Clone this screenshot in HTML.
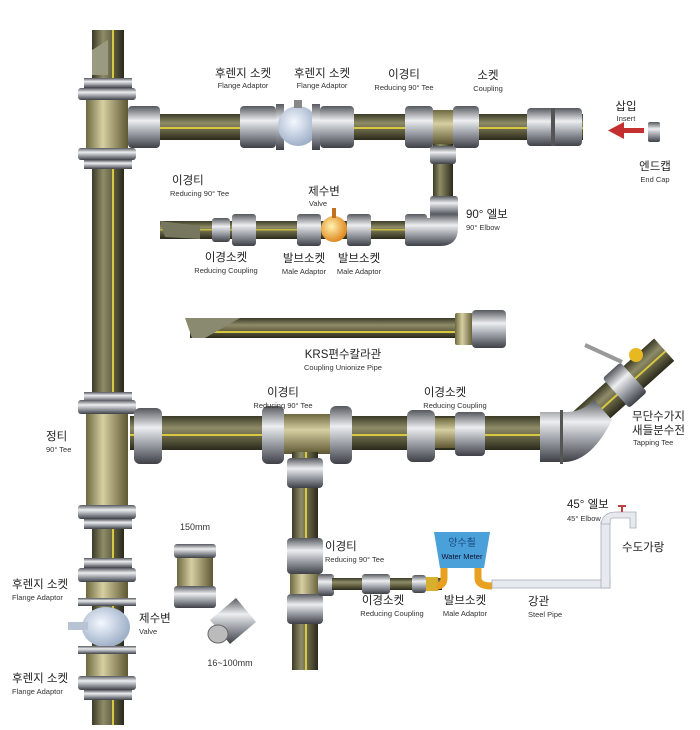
<!DOCTYPE html>
<html><head><meta charset="utf-8"><style>
html,body{margin:0;padding:0;background:#fff}
svg{display:block}
.k{font-family:"Liberation Sans","Noto Sans CJK KR",sans-serif;font-size:11.5px;fill:#222}
.e{font-family:"Liberation Sans",sans-serif;font-size:7.5px;fill:#333}
</style></head><body>
<svg width="700" height="730" viewBox="0 0 700 730" xmlns="http://www.w3.org/2000/svg">
<defs>
<linearGradient id="ph" x1="0" y1="0" x2="0" y2="1"><stop offset="0" stop-color="#3b3a26"/><stop offset=".35" stop-color="#8e8c68"/><stop offset=".7" stop-color="#5a583c"/><stop offset="1" stop-color="#2a291b"/></linearGradient>
<linearGradient id="pv" x1="0" y1="0" x2="1" y2="0"><stop offset="0" stop-color="#3b3a26"/><stop offset=".35" stop-color="#8e8c68"/><stop offset=".7" stop-color="#5a583c"/><stop offset="1" stop-color="#2a291b"/></linearGradient>
<linearGradient id="mh" x1="0" y1="0" x2="0" y2="1"><stop offset="0" stop-color="#55585e"/><stop offset=".35" stop-color="#eceef0"/><stop offset=".7" stop-color="#8d9198"/><stop offset="1" stop-color="#3e4046"/></linearGradient>
<linearGradient id="mv" x1="0" y1="0" x2="1" y2="0"><stop offset="0" stop-color="#55585e"/><stop offset=".35" stop-color="#eceef0"/><stop offset=".7" stop-color="#8d9198"/><stop offset="1" stop-color="#3e4046"/></linearGradient>
<linearGradient id="bv" x1="0" y1="0" x2="1" y2="0"><stop offset="0" stop-color="#6e6840"/><stop offset=".4" stop-color="#d6cfa2"/><stop offset="1" stop-color="#5d5733"/></linearGradient>
<linearGradient id="bh" x1="0" y1="0" x2="0" y2="1"><stop offset="0" stop-color="#6e6840"/><stop offset=".4" stop-color="#d6cfa2"/><stop offset="1" stop-color="#5d5733"/></linearGradient>
<radialGradient id="vb" cx=".4" cy=".4" r=".6"><stop offset="0" stop-color="#f4f8ff"/><stop offset="1" stop-color="#9fb0c8"/></radialGradient>
<radialGradient id="vo" cx=".4" cy=".4" r=".6"><stop offset="0" stop-color="#fff2b0"/><stop offset="1" stop-color="#e08a20"/></radialGradient>
</defs>

<rect x="92" y="30" width="32" height="695" fill="url(#pv)"/>
<rect x="112" y="30" width="2" height="695" fill="#d8c840"/>
<path d="M92 50 L108 40 L108 75 L92 75Z" fill="#9a9a80"/>
<rect x="84" y="78" width="48" height="10" fill="url(#mh)"/>
<rect x="78" y="88" width="58" height="12" rx="3" fill="url(#mh)"/>
<rect x="86" y="100" width="42" height="48" fill="url(#bv)"/>
<rect x="78" y="148" width="58" height="12" rx="3" fill="url(#mh)"/>
<rect x="84" y="160" width="48" height="9" fill="url(#mh)"/>
<rect x="128" y="114" width="455" height="26" fill="url(#ph)"/>
<rect x="128" y="127" width="455" height="2" fill="#d8c840"/>
<rect x="128" y="106" width="32" height="42" rx="4" fill="url(#mh)"/>
<rect x="240" y="106" width="36" height="42" rx="4" fill="url(#mh)"/>
<rect x="276" y="104" width="8" height="46" fill="url(#mh)"/>
<circle cx="298" cy="126" r="20" fill="url(#vb)"/>
<rect x="294" y="100" width="8" height="8" fill="#888"/>
<rect x="312" y="104" width="8" height="46" fill="url(#mh)"/>
<rect x="320" y="106" width="34" height="42" rx="4" fill="url(#mh)"/>
<rect x="405" y="106" width="28" height="42" rx="4" fill="url(#mh)"/>
<rect x="433" y="110" width="20" height="34" fill="url(#bh)"/>
<rect x="453" y="106" width="26" height="42" rx="4" fill="url(#mh)"/>
<rect x="527" y="108" width="55" height="38" rx="4" fill="url(#mh)"/>
<rect x="551" y="108" width="4" height="38" fill="#555"/>
<rect x="622" y="128" width="22" height="5" fill="#c43030"/>
<path d="M608 130.5 L624 122 L624 139Z" fill="#c43030"/>
<rect x="648" y="122" width="12" height="20" rx="2" fill="url(#mh)"/>
<rect x="433" y="144" width="20" height="70" fill="url(#pv)"/>
<rect x="430" y="146" width="26" height="18" rx="3" fill="url(#mh)"/>
<rect x="430" y="196" width="28" height="20" rx="3" fill="url(#mh)"/>
<path d="M430 214 L458 214 L458 228 Q458 246 440 246 L420 246 L420 218 L430 218Z" fill="url(#mh)"/>
<rect x="160" y="221" width="262" height="18" fill="url(#ph)"/>
<rect x="160" y="229" width="262" height="1.5" fill="#c8b840"/>
<path d="M160 221 L200 226 L200 239 L165 237Z" fill="#777760"/>
<rect x="212" y="218" width="18" height="24" rx="3" fill="url(#mh)"/>
<rect x="232" y="214" width="24" height="32" rx="3" fill="url(#mh)"/>
<rect x="297" y="214" width="24" height="32" rx="3" fill="url(#mh)"/>
<circle cx="334" cy="229" r="13" fill="url(#vo)"/>
<rect x="332" y="208" width="4" height="10" fill="#c07020"/>
<rect x="347" y="214" width="24" height="32" rx="3" fill="url(#mh)"/>
<rect x="405" y="214" width="22" height="32" rx="3" fill="url(#mh)"/>
<rect x="190" y="318" width="268" height="20" fill="url(#ph)"/>
<rect x="200" y="331" width="258" height="2" fill="#d8c840"/>
<path d="M185 318 L240 318 L205 338 L192 338Z" fill="#8a8a70"/>
<rect x="455" y="313" width="18" height="32" rx="2" fill="url(#bv)"/>
<rect x="472" y="310" width="34" height="38" rx="4" fill="url(#mh)"/>
<rect x="130" y="416" width="432" height="34" fill="url(#ph)"/>
<rect x="130" y="434" width="432" height="2" fill="#d8c840"/>
<rect x="84" y="392" width="48" height="10" fill="url(#mh)"/>
<rect x="78" y="400" width="58" height="14" rx="3" fill="url(#mh)"/>
<rect x="86" y="414" width="42" height="92" fill="url(#bv)"/>
<rect x="78" y="505" width="58" height="14" rx="3" fill="url(#mh)"/>
<rect x="84" y="519" width="48" height="10" fill="url(#mh)"/>
<rect x="134" y="408" width="28" height="56" rx="6" fill="url(#mh)"/>
<rect x="262" y="406" width="22" height="58" rx="6" fill="url(#mh)"/>
<rect x="284" y="414" width="46" height="40" fill="url(#bh)"/>
<rect x="330" y="406" width="22" height="58" rx="6" fill="url(#mh)"/>
<rect x="407" y="410" width="28" height="52" rx="6" fill="url(#mh)"/>
<rect x="435" y="418" width="20" height="30" fill="url(#bh)"/>
<rect x="455" y="412" width="30" height="44" rx="4" fill="url(#mh)"/>
<!-- diagonal pipe -->
<g transform="translate(575,430) rotate(-42)">
<rect x="0" y="-15" width="120" height="30" fill="url(#ph)"/>
<rect x="0" y="1" width="120" height="2" fill="#d8c840"/>
<rect x="55" y="-20" width="24" height="40" rx="3" fill="url(#mh)"/>
</g>
<circle cx="636" cy="355" r="7" fill="#e8b820"/>
<path d="M585 345 L622 362" stroke="#999" stroke-width="4"/>
<!-- 45 elbow -->
<path d="M540 412 L566 412 Q582 412 594 400 L612 420 Q592 460 566 462 L540 462Z" fill="url(#mh)"/>
<rect x="560" y="410" width="3" height="54" fill="#555"/>
<rect x="292" y="452" width="26" height="218" fill="url(#pv)"/>
<rect x="305" y="452" width="2" height="218" fill="#d8c840"/>
<rect x="287" y="458" width="36" height="30" rx="4" fill="url(#mh)"/>
<rect x="287" y="538" width="36" height="36" rx="4" fill="url(#mh)"/>
<rect x="290" y="574" width="30" height="20" fill="url(#bv)"/>
<rect x="287" y="594" width="36" height="30" rx="4" fill="url(#mh)"/>
<rect x="318" y="574" width="16" height="22" rx="3" fill="url(#mh)"/>
<rect x="332" y="578" width="110" height="12" fill="url(#ph)"/>
<rect x="362" y="574" width="28" height="20" rx="3" fill="url(#mh)"/>
<rect x="412" y="575" width="14" height="18" rx="3" fill="url(#mh)"/>
<rect x="426" y="577" width="12" height="14" fill="#d8b030"/>
<path d="M434 532 L490 532 L484 568 L440 568Z" fill="#4aa0d8"/>
<text x="462" y="546" text-anchor="middle" class="k" style="fill:#1a4a80;font-size:10px">양수쵤</text>
<text x="462" y="559" text-anchor="middle" class="e" style="fill:#113">Water Meter</text>
<path d="M444 568 L444 578 Q444 586 436 586" stroke="#e8a020" stroke-width="7" fill="none"/>
<path d="M478 568 L478 578 Q478 586 492 586" stroke="#e8a020" stroke-width="7" fill="none"/>
<rect x="492" y="580" width="118" height="8" fill="#e6eaee" stroke="#aab" stroke-width=".8"/>
<rect x="601" y="522" width="9" height="66" fill="#e6eaee" stroke="#aab" stroke-width=".8"/>
<path d="M601 524 Q603 512 616 512 L636 512 L636 528 L630 528 L630 518 L612 518 Q610 518 610 524Z" fill="#e6eaee" stroke="#aab" stroke-width=".8"/>
<path d="M618 506 L626 506 M622 506 L622 512" stroke="#c04040" stroke-width="2"/>
<rect x="84" y="558" width="48" height="10" fill="url(#mh)"/>
<rect x="78" y="568" width="58" height="14" rx="3" fill="url(#mh)"/>
<rect x="86" y="582" width="42" height="16" fill="url(#bv)"/>
<rect x="78" y="598" width="58" height="8" fill="url(#mh)"/>
<ellipse cx="106" cy="627" rx="24" ry="20" fill="url(#vb)"/>
<rect x="68" y="622" width="20" height="8" fill="#b8c4d4"/>
<rect x="78" y="646" width="58" height="8" fill="url(#mh)"/>
<rect x="86" y="654" width="42" height="22" fill="url(#bv)"/>
<rect x="78" y="676" width="58" height="14" rx="3" fill="url(#mh)"/>
<rect x="84" y="690" width="48" height="10" fill="url(#mh)"/>
<rect x="174" y="544" width="42" height="14" rx="3" fill="url(#mh)"/>
<rect x="177" y="558" width="36" height="28" fill="url(#bv)"/>
<rect x="174" y="586" width="42" height="22" rx="3" fill="url(#mh)"/>
<path d="M210 620 L236 598 L256 622 L230 644Z" fill="url(#mh)"/>
<ellipse cx="218" cy="634" rx="10" ry="9" fill="#bbb" stroke="#666"/>

<g text-anchor="middle">
<text x="243" y="77" class="k">후렌지 소켓</text><text x="243" y="88" class="e">Flange Adaptor</text>
<text x="322" y="77" class="k">후렌지 소켓</text><text x="322" y="88" class="e">Flange Adaptor</text>
<text x="404" y="78" class="k">이경티</text><text x="404" y="90" class="e">Reducing 90° Tee</text>
<text x="488" y="79" class="k">소켓</text><text x="488" y="91" class="e">Coupling</text>
<text x="626" y="110" class="k">삽입</text><text x="626" y="121" class="e">Insert</text>
<text x="655" y="170" class="k">엔드캡</text><text x="655" y="182" class="e">End Cap</text>
<text x="324" y="195" class="k">제수변</text><text x="318" y="206" class="e">Valve</text>
<text x="226" y="261" class="k">이경소켓</text><text x="226" y="273" class="e">Reducing Coupling</text>
<text x="304" y="262" class="k">발브소켓</text><text x="304" y="274" class="e">Male Adaptor</text>
<text x="359" y="262" class="k">발브소켓</text><text x="359" y="274" class="e">Male Adaptor</text>
<text x="343" y="358" class="k">KRS편수칼라관</text><text x="343" y="370" class="e">Coupling Unionize Pipe</text>
<text x="283" y="396" class="k">이경티</text><text x="283" y="408" class="e">Reducing 90° Tee</text>
<text x="445" y="396" class="k">이경소켓</text><text x="455" y="408" class="e">Reducing Coupling</text>
<text x="195" y="530" class="e" style="font-size:9px">150mm</text>
<text x="230" y="666" class="e" style="font-size:9px">16~100mm</text>
<text x="383" y="604" class="k">이경소켓</text><text x="392" y="616" class="e">Reducing Coupling</text>
<text x="465" y="604" class="k">발브소켓</text><text x="465" y="616" class="e">Male Adaptor</text>
</g>
<text x="172" y="184" class="k">이경티</text><text x="170" y="196" class="e">Reducing 90° Tee</text>
<text x="466" y="218" class="k">90° 엘보</text><text x="466" y="230" class="e">90° Elbow</text>
<text x="632" y="420" class="k">무단수가지</text><text x="632" y="434" class="k">새들분수전</text><text x="633" y="445" class="e">Tapping Tee</text>
<text x="46" y="440" class="k">정티</text><text x="46" y="452" class="e">90° Tee</text>
<text x="567" y="508" class="k">45° 엘보</text><text x="567" y="521" class="e">45° Elbow</text>
<text x="325" y="550" class="k">이경티</text><text x="325" y="562" class="e">Reducing 90° Tee</text>
<text x="622" y="551" class="k">수도가랑</text>
<text x="528" y="605" class="k">강관</text><text x="528" y="617" class="e">Steel Pipe</text>
<text x="12" y="588" class="k">후렌지 소켓</text><text x="12" y="600" class="e">Flange Adaptor</text>
<text x="139" y="622" class="k">제수변</text><text x="139" y="634" class="e">Valve</text>
<text x="12" y="682" class="k">후렌지 소켓</text><text x="12" y="694" class="e">Flange Adaptor</text>
</svg>
</body></html>
